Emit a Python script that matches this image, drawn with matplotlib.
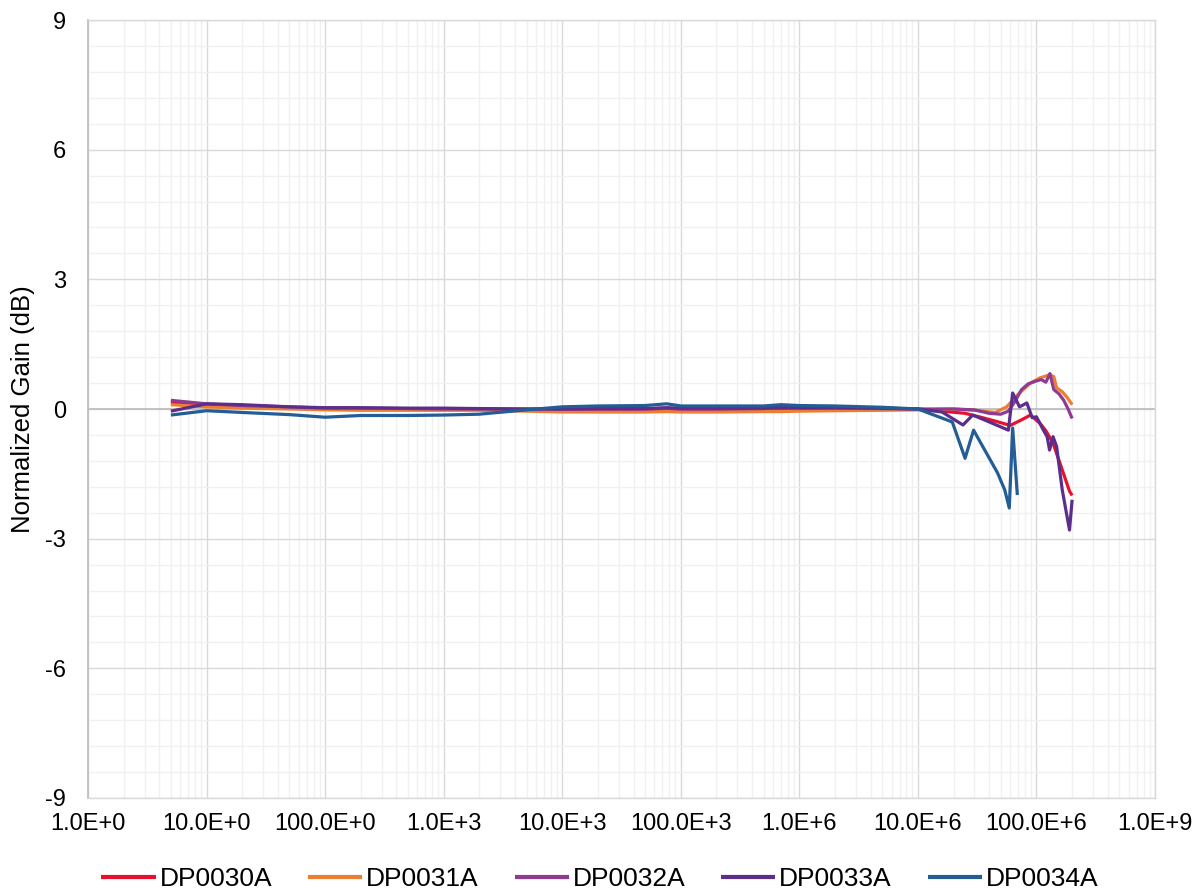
import numpy as np
import matplotlib
matplotlib.use("Agg")
import matplotlib.pyplot as plt
from matplotlib.ticker import LogLocator, FixedLocator, MultipleLocator, NullFormatter

plt.rcParams['font.family'] = ['Liberation Sans', 'DejaVu Sans']

low_f = [5, 10, 20, 50, 100, 200, 500, 1e3, 2e3, 5e3, 1e4, 2e4, 5e4, 7.6e4, 1e5, 2e5, 5e5, 7e5, 1e6, 2e6, 5e6]

# DP0030A
f30 = low_f + [1e7, 1.6e7, 2.5e7, 3.5e7, 4.5e7, 6e7, 7.5e7, 8.9e7, 1.07e8, 1.2e8, 1.38e8, 1.6e8, 1.9e8, 2e8]
g30 = [0.15, 0.08, 0.05, 0.02, 0.0, 0.0, 0.0, 0.0, 0.0, -0.02, -0.03, -0.03, -0.03, -0.02, -0.02, -0.01, 0.0, 0.0, 0.0, 0.0, 0.0,
       0.0, -0.05, -0.1, -0.2, -0.28, -0.38, -0.25, -0.14, -0.33, -0.5, -0.79, -1.3, -1.9, -2.0]

# DP0031A
f31 = low_f + [1e7, 2e7, 3e7, 4.5e7, 5.6e7, 7.2e7, 8.9e7, 1.07e8, 1.29e8, 1.4e8, 1.48e8, 1.65e8, 1.8e8, 2e8]
g31 = [0.1, 0.05, 0.02, 0.0, -0.02, -0.03, -0.03, -0.03, -0.03, -0.05, -0.07, -0.07, -0.07, -0.06, -0.07, -0.07, -0.06, -0.06, -0.05, -0.04, -0.03,
       -0.02, 0.0, -0.03, -0.08, 0.05, 0.37, 0.6, 0.72, 0.79, 0.75, 0.49, 0.4, 0.28, 0.1]

# DP0032A
f32 = low_f + [1e7, 2e7, 3e7, 4e7, 5e7, 5.8e7, 6.5e7, 7.5e7, 8.5e7, 1e8, 1.1e8, 1.2e8, 1.3e8, 1.4e8, 1.55e8, 1.7e8, 1.85e8, 2e8]
g32 = [0.2, 0.12, 0.08, 0.05, 0.02, 0.02, 0.01, 0.0, 0.0, 0.0, 0.0, 0.0, 0.0, 0.02, 0.0, 0.0, 0.01, 0.03, 0.02, 0.02, 0.01,
       0.0, 0.0, -0.02, -0.1, -0.12, -0.05, 0.15, 0.45, 0.58, 0.65, 0.68, 0.62, 0.82, 0.45, 0.35, 0.2, 0.0, -0.22]

# DP0033A
f33 = low_f + [1e7, 1.6e7, 2.4e7, 2.9e7, 4e7, 5.8e7, 6.3e7, 7.2e7, 8.3e7, 9.2e7, 1e8, 1.15e8, 1.23e8, 1.29e8, 1.38e8, 1.48e8, 1.65e8, 1.9e8, 2e8]
g33 = [-0.05, 0.12, 0.1, 0.05, 0.03, 0.03, 0.02, 0.02, 0.01, 0.0, 0.0, 0.01, 0.01, 0.03, 0.02, 0.02, 0.02, 0.04, 0.03, 0.03, 0.02,
       0.0, -0.07, -0.37, -0.14, -0.3, -0.49, 0.37, 0.05, 0.14, -0.2, -0.18, -0.5, -0.64, -0.95, -0.64, -0.87, -1.87, -2.8, -2.1]

# DP0034A
f34 = low_f + [1e7, 1.95e7, 2.5e7, 2.95e7, 4.7e7, 5.4e7, 5.9e7, 6.3e7, 6.9e7]
g34 = [-0.14, -0.04, -0.08, -0.13, -0.19, -0.15, -0.15, -0.14, -0.12, -0.02, 0.05, 0.07, 0.08, 0.12, 0.07, 0.07, 0.07, 0.1, 0.08, 0.07, 0.04,
       0.0, -0.3, -1.14, -0.49, -1.48, -1.87, -2.29, -0.44, -1.99]

names = ["DP0030A", "DP0031A", "DP0032A", "DP0033A", "DP0034A"]
colors = ["#E8112D", "#ED7D31", "#8E3B91", "#5B2E8C", "#245C95"]
series = [(f30, g30), (f31, g31), (f32, g32), (f33, g33), (f34, g34)]

x_ticks = [1e0, 1e1, 1e2, 1e3, 1e4, 1e5, 1e6, 1e7, 1e8, 1e9]
x_labels = ["1.0E+0", "10.0E+0", "100.0E+0", "1.0E+3", "10.0E+3", "100.0E+3", "1.0E+6", "10.0E+6", "100.0E+6", "1.0E+9"]
y_ticks = [-9, -6, -3, 0, 3, 6, 9]

fig = plt.figure(figsize=(12, 8.92), dpi=100)
ax = fig.add_axes([88/1200, 1 - 798/892, (1155-88)/1200, (798-20)/892])

for (f, g), n, c in zip(series, names, colors):
    ax.plot(f, g, color=c, lw=2.3, label=n, solid_joinstyle='round', solid_capstyle='butt')

ax.set_xscale('log')
ax.set_xlim(1, 1e9)
ax.set_ylim(-9, 9)
ax.xaxis.set_major_locator(FixedLocator(x_ticks))
ax.set_xticklabels(x_labels)
ax.xaxis.set_minor_locator(LogLocator(base=10, subs=np.arange(2, 10), numticks=100))
ax.xaxis.set_minor_formatter(NullFormatter())
ax.set_yticks(y_ticks)
ax.set_yticklabels([str(v) for v in y_ticks])
ax.yaxis.set_minor_locator(MultipleLocator(0.6))

ax.grid(which='major', color='#D9D9D9', lw=1.0)
ax.grid(which='minor', color='#F0F0F0', lw=1.0)
ax.set_axisbelow(True)
ax.axhline(0, color='#BFBFBF', lw=1.3, zorder=1.5)

for s in ['top', 'right', 'bottom']:
    ax.spines[s].set_color('#D9D9D9')
    ax.spines[s].set_linewidth(1.0)
ax.spines['left'].set_color('#BFBFBF')
ax.spines['left'].set_linewidth(1.3)

ax.tick_params(which='both', length=0, labelsize=17, colors='black')
ax.tick_params(axis='x', pad=11)
ax.tick_params(axis='y', pad=16)

ax.set_ylabel("Normalized Gain (dB)", fontsize=18.5)
ax.yaxis.set_label_coords(-0.050, 0.5)

leg = fig.legend(loc='center', bbox_to_anchor=(0.5, 1 - 879/892), ncol=5, frameon=False,
                 fontsize=19, handlelength=2.05, handletextpad=0.15, columnspacing=1.36,
                 borderpad=0, borderaxespad=0)
for line in leg.get_lines():
    line.set_linewidth(3.0)

fig.savefig("out.png", dpi=100)
